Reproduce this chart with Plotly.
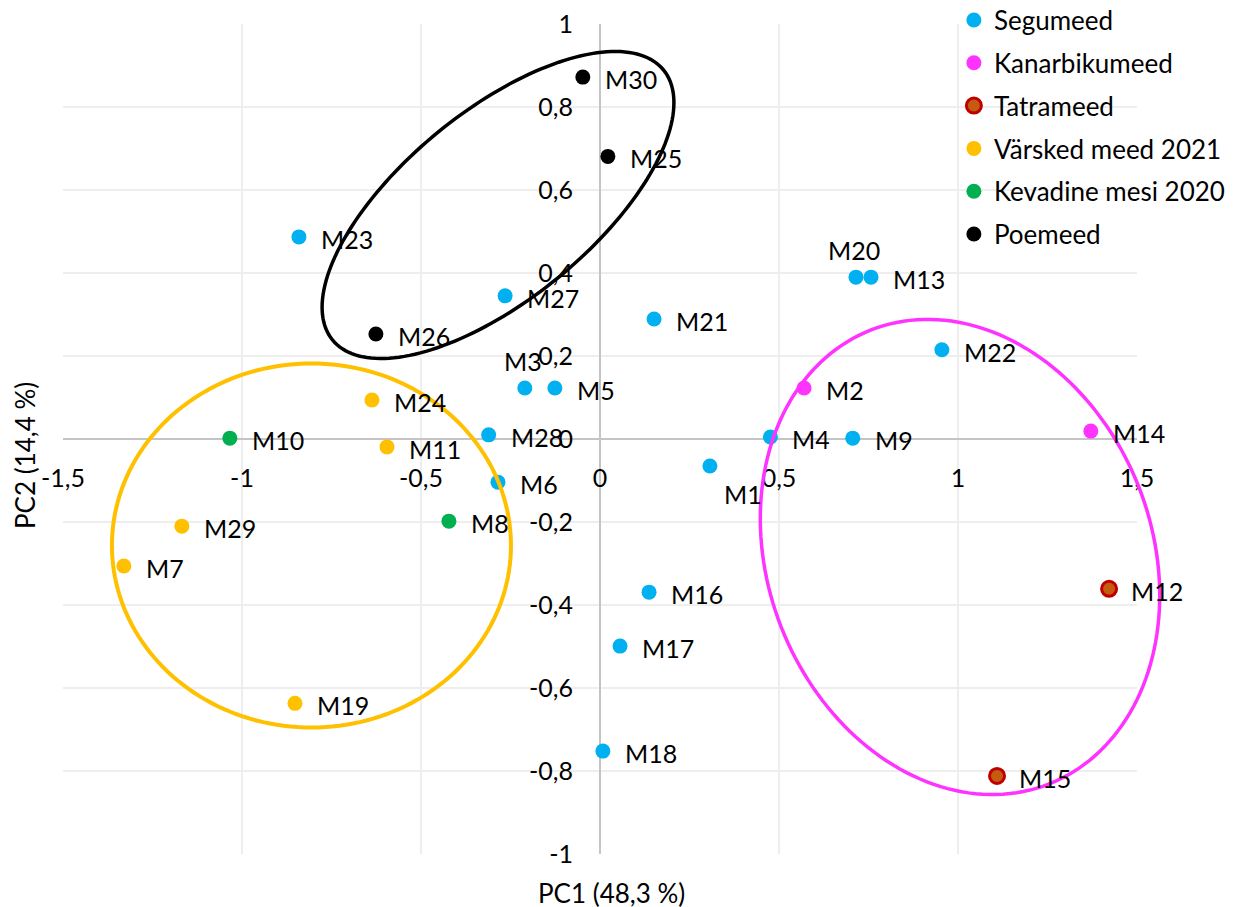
import plotly.graph_objects as go
import numpy as np

# ---------------- data ----------------
groups = ["Segumeed", "Kanarbikumeed", "Tatrameed", "Värsked meed 2021",
          "Kevadine mesi 2020", "Poemeed"]

seg_names = ["M23", "M27", "M3", "M5", "M28", "M6", "M21", "M20", "M13", "M22",
             "M4", "M9", "M1", "M16", "M17", "M18"]
seg_pc1 = [-0.841, -0.265, -0.210, -0.126, -0.311, -0.285, 0.151, 0.715, 0.757, 0.955,
           0.476, 0.706, 0.307, 0.137, 0.056, 0.008]
seg_pc2 = [0.487, 0.345, 0.123, 0.123, 0.010, -0.104, 0.289, 0.390, 0.390, 0.215,
           0.005, 0.002, -0.065, -0.369, -0.499, -0.752]

kan_names = ["M2", "M14"]
kan_pc1 = [0.570, 1.371]
kan_pc2 = [0.123, 0.019]

tat_names = ["M12", "M15"]
tat_pc1 = [1.422, 1.109]
tat_pc2 = [-0.361, -0.812]

var_names = ["M24", "M11", "M29", "M7", "M19"]
var_pc1 = [-0.637, -0.595, -1.168, -1.330, -0.852]
var_pc2 = [0.094, -0.019, -0.210, -0.306, -0.637]

kev_names = ["M10", "M8"]
kev_pc1 = [-1.034, -0.422]
kev_pc2 = [0.002, -0.198]

poe_names = ["M30", "M25", "M26"]
poe_pc1 = [-0.048, 0.022, -0.626]
poe_pc2 = [0.872, 0.681, 0.253]

x_ticks = [-1.5, -1, -0.5, 0, 0.5, 1, 1.5]
x_ticklabels = ["-1,5", "-1", "-0,5", "0", "0,5", "1", "1,5"]
y_ticks = [-1, -0.8, -0.6, -0.4, -0.2, 0, 0.2, 0.4, 0.6, 0.8, 1]
y_ticklabels = ["-1", "-0,8", "-0,6", "-0,4", "-0,2", "0", "0,2", "0,4", "0,6", "0,8", "1"]

x_title = "PC1 (48,3 %)"
y_title = "PC2 (14,4 %)"

# special label placement (default: right of the point)
label_pos = {"M20": "top", "M3": "top", "M1": "bottomright"}

# cluster ellipses (centre, semi-axis vectors) in data units
ellipses = [
    dict(c=(-0.806, -0.2566), u=(0.5573, 0.0), v=(0.0, 0.4386), color="#FFC000", w=4),
    dict(c=(1.0056, -0.2843), u=(-0.2486, 0.547), v=(0.4994, 0.1689), color="#FF33FF", w=3.5),
    dict(c=(-0.2849, 0.5639), u=(0.4623, 0.3253), v=(0.1665, -0.1761), color="#000000", w=3.5),
]

# ---------------- styles ----------------
FONT = "Lato"
FS = 25
styles = {
    "Segumeed": dict(color="#00B0F0"),
    "Kanarbikumeed": dict(color="#FF33FF"),
    "Tatrameed": dict(color="#C55A11", line=dict(color="#C00000", width=3)),
    "Värsked meed 2021": dict(color="#FFC000"),
    "Kevadine mesi 2020": dict(color="#00B050"),
    "Poemeed": dict(color="#000000"),
}
series = [
    ("Segumeed", seg_names, seg_pc1, seg_pc2),
    ("Kanarbikumeed", kan_names, kan_pc1, kan_pc2),
    ("Tatrameed", tat_names, tat_pc1, tat_pc2),
    ("Värsked meed 2021", var_names, var_pc1, var_pc2),
    ("Kevadine mesi 2020", kev_names, kev_pc1, kev_pc2),
    ("Poemeed", poe_names, poe_pc1, poe_pc2),
]

fig = go.Figure()
annotations = []
for name, names, xs, ys in series:
    st = styles[name]
    marker = dict(size=15, color=st["color"], line=st.get("line", dict(width=0)))
    fig.add_trace(go.Scatter(x=xs, y=ys, mode="markers", name=name, legendgroup=name,
                             marker=marker, hoverinfo="text", text=names))
    for n, xv, yv in zip(names, xs, ys):
        pos = label_pos.get(n, "right")
        a = dict(x=xv, y=yv, xref="x", yref="y", text=n, showarrow=False,
                 font=dict(family=FONT, size=FS, color="#000000"))
        if pos == "right":
            a.update(xanchor="left", yanchor="middle", xshift=20, yshift=-2)
        elif pos == "top":
            a.update(xanchor="center", yanchor="middle", xshift=-2, yshift=27)
        else:
            a.update(xanchor="center", yanchor="middle", xshift=33, yshift=-28)
        annotations.append(a)

XR = (-1.5, 1.5)
YR = (-1.0, 1.0)


def to_paper(x, y):
    return (x - XR[0]) / (XR[1] - XR[0]), (y - YR[0]) / (YR[1] - YR[0])


shapes = []
t = np.linspace(0, 2 * np.pi, 181)
for e in ellipses:
    cx, cy = e["c"]
    ux, uy = e["u"]
    vx, vy = e["v"]
    pts = [to_paper(cx + ux * np.cos(tt) + vx * np.sin(tt), cy + uy * np.cos(tt) + vy * np.sin(tt)) for tt in t]
    path = "M " + " L ".join(f"{px:.5f},{py:.5f}" for px, py in pts) + " Z"
    shapes.append(dict(type="path", path=path, xref="paper", yref="paper",
                       line=dict(color=e["color"], width=e["w"]), layer="above"))

annotations.append(dict(text=x_title, xref="paper", yref="paper", x=0.511, y=-0.047,
                        showarrow=False, xanchor="center", yanchor="middle",
                        font=dict(family=FONT, size=26, color="#000000")))
annotations.append(dict(text=y_title, xref="paper", yref="paper", x=-0.0354, y=0.4807,
                        showarrow=False, xanchor="center", yanchor="middle", textangle=-90,
                        font=dict(family=FONT, size=26, color="#000000")))

fig.update_layout(
    width=1230, height=899,
    margin=dict(l=55, r=101, t=16, b=53, autoexpand=False),
    paper_bgcolor="white", plot_bgcolor="white",
    font=dict(family=FONT, size=FS, color="#000000"),
    showlegend=True,
    legend=dict(x=0.8295, y=1.033, xanchor="left", yanchor="top",
                font=dict(family=FONT, size=26, color="#000000"),
                bgcolor="rgba(0,0,0,0)", tracegroupgap=6, traceorder="grouped"),
    xaxis=dict(range=list(XR), tickvals=x_ticks, ticktext=x_ticklabels,
               showgrid=True, gridcolor="#EEEEEE", gridwidth=1.5,
               zeroline=True, zerolinecolor="#C4C4C4", zerolinewidth=1.5,
               showline=False, ticks="", anchor="free", position=0.5, automargin=False,
               ticklabeloverflow="allow",
               ticklabelstandoff=22, tickfont=dict(family=FONT, size=FS, color="#000000")),
    yaxis=dict(range=list(YR), tickvals=y_ticks, ticktext=y_ticklabels,
               showgrid=True, gridcolor="#EEEEEE", gridwidth=1.5,
               zeroline=True, zerolinecolor="#C4C4C4", zerolinewidth=1.5,
               showline=False, ticks="", anchor="free", position=0.5, automargin=False,
               ticklabeloverflow="allow",
               ticklabelstandoff=27, tickfont=dict(family=FONT, size=FS, color="#000000")),
    shapes=shapes,
    annotations=annotations,
)

fig.write_html("out.html")
